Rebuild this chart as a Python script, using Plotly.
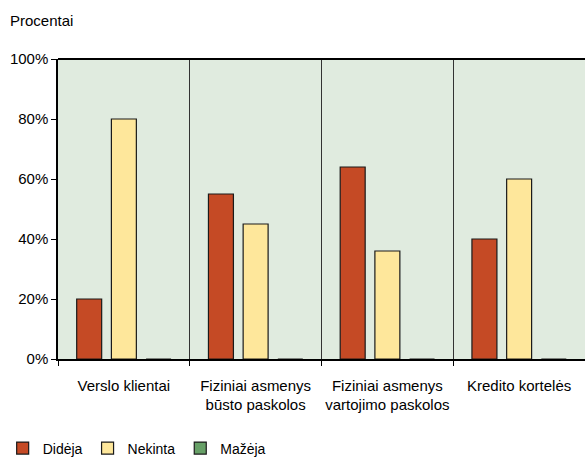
import plotly.graph_objects as go

categories = [
    "Verslo klientai",
    "Fiziniai asmenys<br>būsto paskolos",
    "Fiziniai asmenys<br>vartojimo paskolos",
    "Kredito kortelės",
]
didėja = [20, 55, 64, 40]
nekinta = [80, 45, 36, 60]
mažėja = [0, 0, 0, 0]

y_ticks = [0, 20, 40, 60, 80, 100]
y_tick_labels = ["0%", "20%", "40%", "60%", "80%", "100%"]

FONT = "Liberation Sans Narrow, Arial Narrow, Liberation Sans, Arial, sans-serif"

fig = go.Figure()
series = [
    ("Didėja", didėja, "#C54A25"),
    ("Nekinta", nekinta, "#FEE79B"),
    ("Mažėja", mažėja, "#67A067"),
]
for name, vals, color in series:
    fig.add_trace(go.Bar(
        name=name, x=categories, y=vals,
        marker=dict(color=color, line=dict(color="#1a1a1a", width=1.2)),
    ))

fig.update_layout(
    width=585, height=461,
    margin=dict(l=58, r=0, t=59, b=102, autoexpand=False),
    paper_bgcolor="white",
    plot_bgcolor="#E0EBDF",
    barmode="group",
    bargap=0.21,
    bargroupgap=0.28,
    font=dict(family=FONT, size=15, color="black"),
    showlegend=True,
    legend=dict(
        orientation="h", x=-0.105, y=-0.245, xanchor="left", yanchor="top",
        font=dict(family=FONT, size=14), itemwidth=30, traceorder="normal",
        tracegroupgap=0,
    ),
    xaxis=dict(
        type="category",
        showgrid=True, gridcolor="#333", gridwidth=1,
        tickson="boundaries",
        ticks="outside", ticklen=5, tickcolor="black",
        showline=True, linecolor="black", linewidth=1.5,
        tickfont=dict(family=FONT, size=15),
        tickangle=0, automargin=False,
        ticklabelstandoff=12,
    ),
    yaxis=dict(
        range=[0, 100],
        tickvals=y_ticks, ticktext=y_tick_labels,
        showgrid=False, zeroline=False,
        ticks="outside", ticklen=5, tickcolor="black",
        showline=True, linecolor="black", linewidth=1.5,
        tickfont=dict(family=FONT, size=15), automargin=False,
    ),
    annotations=[dict(
        text="Procentai", xref="paper", yref="paper",
        x=-0.094, y=1.13, xanchor="left", yanchor="middle",
        showarrow=False, font=dict(family=FONT, size=15),
    )],
    shapes=[dict(
        type="line", xref="paper", yref="paper",
        x0=0, x1=1, y0=1, y1=1, line=dict(color="black", width=2),
    )],
)

fig.write_html("out.html")
